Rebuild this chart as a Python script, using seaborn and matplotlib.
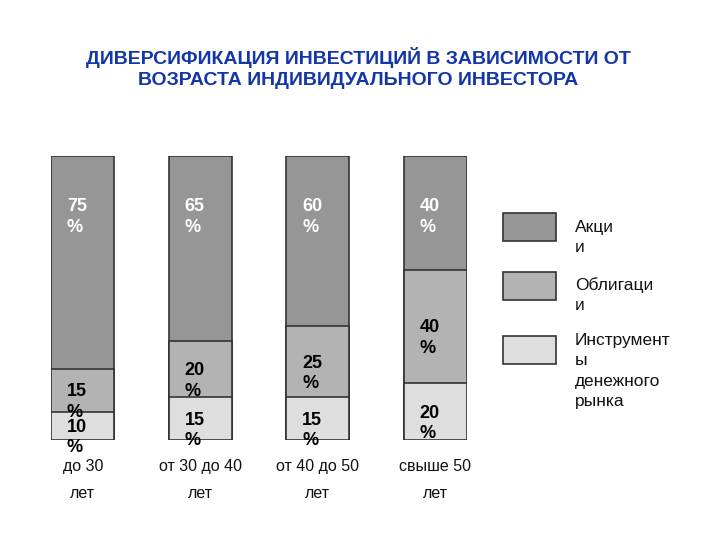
import matplotlib
matplotlib.use("Agg")
import matplotlib.pyplot as plt
from matplotlib.patches import Rectangle
from matplotlib import font_manager
import seaborn as sns
import pandas as pd
import numpy as np

categories = ["до 30\nлет", "от 30 до 40\nлет", "от 40 до 50\nлет", "свыше 50\nлет"]
stocks = [75, 65, 60, 40]
bonds = [15, 20, 25, 40]
money = [10, 15, 15, 20]
series_names = ["Акци\nи", "Облигаци\nи", "Инструмент\nы\nденежного\nрынка"]
title = "ДИВЕРСИФИКАЦИЯ ИНВЕСТИЦИЙ В ЗАВИСИМОСТИ ОТ\nВОЗРАСТА ИНДИВИДУАЛЬНОГО ИНВЕСТОРА"

c_stocks = "#969696"
c_bonds = "#b3b3b3"
c_money = "#dedede"
edge = "#333333"

sns.set_style("white")
plt.rcParams["font.family"] = ["Liberation Sans", "DejaVu Sans"]

narrow = "Liberation Sans"
names = {f.name for f in font_manager.fontManager.ttflist}
if "Liberation Sans Narrow" in names:
    narrow = "Liberation Sans Narrow"

df = pd.DataFrame({"cat": categories, "stocks": stocks, "bonds": bonds, "money": money})
df["top"] = df["stocks"] + df["bonds"] + df["money"]
df["mid"] = df["bonds"] + df["money"]

fig = plt.figure(figsize=(7.2, 5.4), dpi=100)
ax = fig.add_axes([51 / 720, 1 - 440 / 540, 416 / 720, 284 / 540])

W = 0.54
for col, c in [("top", c_stocks), ("mid", c_bonds), ("money", c_money)]:
    sns.barplot(data=df, x="cat", y=col, order=categories, color=c, width=W,
                edgecolor=edge, linewidth=1.2, saturation=1, ax=ax)

ax.set_xlim(-0.27, 3.27)
ax.set_ylim(0, 100)
for s in ax.spines.values():
    s.set_visible(False)
ax.set_yticks([])
ax.set_xlabel("")
ax.set_ylabel("")
ax.tick_params(axis="x", length=0, pad=14)
for lab in ax.get_xticklabels():
    lab.set_fontfamily(narrow)
    lab.set_fontsize(11.5)
    lab.set_linespacing(2.0)
    lab.set_color("#111111")

# value labels
for i in range(len(categories)):
    xl = i - W / 2 + 0.136
    ax.text(xl, 85.2, f"{stocks[i]}\n%", color="white", fontsize=13, fontweight="bold",
            ha="left", va="top", linespacing=1.27)
    yb = money[i] + bonds[i] / 2
    ax.annotate(f"{bonds[i]}\n%", (xl, yb), xytext=(0, -8.5), textcoords="offset points",
                color="black", fontsize=13, fontweight="bold", ha="left", va="center",
                linespacing=1.27)
    ym = money[i] / 2
    ax.annotate(f"{money[i]}\n%", (xl, ym), xytext=(0, -8.5), textcoords="offset points",
                color="black", fontsize=13, fontweight="bold", ha="left", va="center",
                linespacing=1.27)

# legend
leg_colors = [c_stocks, c_bonds, c_money]
rect_tops = [213, 272, 336]
text_tops = [220, 277, 333]
for name, col, rt, tt in zip(series_names, leg_colors, rect_tops, text_tops):
    fig.add_artist(Rectangle((503 / 720, 1 - (rt + 28) / 540), 53 / 720, 28 / 540,
                             transform=fig.transFigure, facecolor=col, edgecolor=edge,
                             linewidth=1.2))
    fig.text(575 / 720, 1 - tt / 540, name, fontsize=12.5, ha="left", va="top",
             linespacing=1.45, color="#111111")

fig.text(358 / 720, 1 - 47 / 540, title, fontsize=14, fontweight="bold", color="#1336a8",
         ha="center", va="top", linespacing=1.32, multialignment="center")

fig.savefig("out.png", dpi=100, facecolor="white")
